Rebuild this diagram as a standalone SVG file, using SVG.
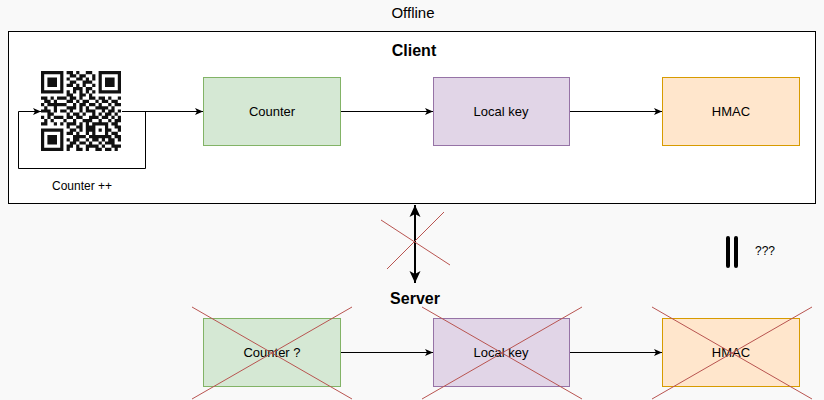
<svg xmlns="http://www.w3.org/2000/svg" width="824" height="400" viewBox="0 0 824 400">
<style>
text{font-family:"Liberation Sans",Arial,sans-serif;fill:#000}
.lbl{font-size:13px;text-anchor:middle}
.conn{stroke:#000;stroke-width:1;fill:none}
.cross{stroke:#b85450;stroke-width:1;fill:none}
.green{fill:#d5e8d4;stroke:#82b366}
.purple{fill:#e1d5e7;stroke:#9673a6}
.orange{fill:#ffe6cc;stroke:#d79b00}
</style>
<defs>
<marker id="arr" markerWidth="10" markerHeight="10" refX="9" refY="5" orient="auto" markerUnits="userSpaceOnUse">
<path d="M1,1.5 L9,5 L1,8.5 L3,5 Z" fill="#000"/>
</marker>
<marker id="arrB" markerWidth="14" markerHeight="14" refX="13" refY="7" orient="auto-start-reverse" markerUnits="userSpaceOnUse">
<path d="M1,1.5 L13,7 L1,12.5 L4,7 Z" fill="#000"/>
</marker>
</defs>
<rect x="0" y="0" width="824" height="400" fill="#f9f9f9"/>
<text x="413" y="18" font-size="15" text-anchor="middle">Offline</text>
<g id="client">
<rect x="8.5" y="31.5" width="807" height="172" fill="#fff" stroke="#000"/>
<text x="414" y="56" font-size="16" font-weight="bold" text-anchor="middle">Client</text>
</g>
<g id="qr">
<path transform="translate(41,71) scale(3.2)" stroke="#111" stroke-width="1" fill="none" d="M0 .5h7M8 .5h2M11 .5h1M14 .5h2M18 .5h7M0 1.5h1M6 1.5h1M9 1.5h2M12 1.5h2M16 1.5h1M18 1.5h1M24 1.5h1M0 2.5h1M2 2.5h3M6 2.5h1M8 2.5h1M11 2.5h2M14 2.5h1M16 2.5h1M18 2.5h1M20 2.5h3M24 2.5h1M0 3.5h1M2 3.5h3M6 3.5h1M9 3.5h2M13 3.5h3M18 3.5h1M20 3.5h3M24 3.5h1M0 4.5h1M2 4.5h3M6 4.5h1M8 4.5h2M11 4.5h1M13 4.5h1M16 4.5h1M18 4.5h1M20 4.5h3M24 4.5h1M0 5.5h1M6 5.5h1M10 5.5h3M14 5.5h2M18 5.5h1M24 5.5h1M0 6.5h7M8 6.5h1M10 6.5h1M12 6.5h1M14 6.5h1M16 6.5h1M18 6.5h7M8 7.5h2M12 7.5h2M15 7.5h1M0 8.5h2M3 8.5h1M5 8.5h3M9 8.5h2M12 8.5h1M15 8.5h2M18 8.5h2M21 8.5h1M24 8.5h1M1 9.5h2M4 9.5h1M8 9.5h2M11 9.5h1M13 9.5h2M17 9.5h1M19 9.5h2M22 9.5h2M0 10.5h1M2 10.5h6M10 10.5h1M12 10.5h2M15 10.5h2M18 10.5h1M21 10.5h1M23 10.5h2M1 11.5h1M4 11.5h1M8 11.5h3M12 11.5h1M14 11.5h1M17 11.5h4M22 11.5h1M0 12.5h3M4 12.5h1M6 12.5h2M9 12.5h1M12 12.5h1M14 12.5h3M19 12.5h1M21 12.5h2M24 12.5h1M2 13.5h2M8 13.5h1M10 13.5h2M13 13.5h1M16 13.5h1M18 13.5h1M20 13.5h2M23 13.5h1M0 14.5h1M2 14.5h1M4 14.5h3M8 14.5h2M11 14.5h2M15 14.5h3M19 14.5h2M22 14.5h1M24 14.5h1M1 15.5h1M3 15.5h1M7 15.5h1M10 15.5h1M13 15.5h3M18 15.5h1M21 15.5h1M23 15.5h2M0 16.5h2M4 16.5h1M6 16.5h1M8 16.5h3M12 16.5h1M14 16.5h1M16 16.5h5M22 16.5h2M8 17.5h1M11 17.5h2M14 17.5h3M20 17.5h1M23 17.5h2M0 18.5h7M9 18.5h2M12 18.5h1M14 18.5h3M18 18.5h1M20 18.5h2M24 18.5h1M0 19.5h1M6 19.5h1M8 19.5h2M11 19.5h1M14 19.5h1M16 19.5h1M20 19.5h1M22 19.5h2M0 20.5h1M2 20.5h3M6 20.5h1M10 20.5h4M15 20.5h7M23 20.5h2M0 21.5h1M2 21.5h3M6 21.5h1M8 21.5h1M10 21.5h2M14 21.5h1M16 21.5h2M19 21.5h1M21 21.5h2M24 21.5h1M0 22.5h1M2 22.5h3M6 22.5h1M9 22.5h2M12 22.5h2M15 22.5h1M18 22.5h1M20 22.5h3M0 23.5h1M6 23.5h1M8 23.5h2M11 23.5h1M14 23.5h4M19 23.5h1M22 23.5h3M0 24.5h7M8 24.5h1M11 24.5h2M14 24.5h1M17 24.5h2M20 24.5h2M23 24.5h1"/>
<text x="82" y="190" font-size="12" text-anchor="middle">Counter ++</text>
</g>
<g id="c-counter"><rect class="green" x="203.5" y="77.5" width="137" height="68"/><text class="lbl" x="272" y="116">Counter</text></g>
<g id="c-localkey"><rect class="purple" x="433.5" y="77.5" width="136" height="68"/><text class="lbl" x="501" y="116">Local key</text></g>
<g id="c-hmac"><rect class="orange" x="662.5" y="77.5" width="137" height="68"/><text class="lbl" x="731" y="116">HMAC</text></g>
<text x="415" y="304" font-size="16" font-weight="bold" text-anchor="middle">Server</text>
<g id="s-counter"><rect class="green" x="203.5" y="318.5" width="137" height="68"/><text class="lbl" x="272" y="357">Counter ?</text></g>
<g id="s-localkey"><rect class="purple" x="433.5" y="318.5" width="136" height="68"/><text class="lbl" x="501" y="357">Local key</text></g>
<g id="s-hmac"><rect class="orange" x="662.5" y="318.5" width="137" height="68"/><text class="lbl" x="731" y="357">HMAC</text></g>
<g id="bars">
<path d="M728 238v28M736 238v28" stroke="#000" stroke-width="4" stroke-linecap="round"/>
<text x="765" y="255" font-size="12" text-anchor="middle">???</text>
</g>
<g id="connectors">
<path class="conn" d="M122 111.5H145.5V168.5H18.5V111.5H41" marker-end="url(#arr)"/>
<path class="conn" d="M122 111.5H203" marker-end="url(#arr)"/>
<path class="conn" d="M341 111.5H433" marker-end="url(#arr)"/>
<path class="conn" d="M570 111.5H662" marker-end="url(#arr)"/>
<path class="conn" d="M341 352.5H433" marker-end="url(#arr)"/>
<path class="conn" d="M570 352.5H662" marker-end="url(#arr)"/>
<path d="M415 205V283" stroke="#000" stroke-width="2" fill="none" marker-start="url(#arrB)" marker-end="url(#arrB)"/>
</g>
<g id="crosses">
<path class="cross" d="M381 220L450 265M444 212L387 269"/>
<path class="cross" d="M192 307L352 399M352 307L192 399"/>
<path class="cross" d="M422 307L582 399M582 307L422 399"/>
<path class="cross" d="M652 307L812 399M812 307L652 399"/>
</g>
</svg>
